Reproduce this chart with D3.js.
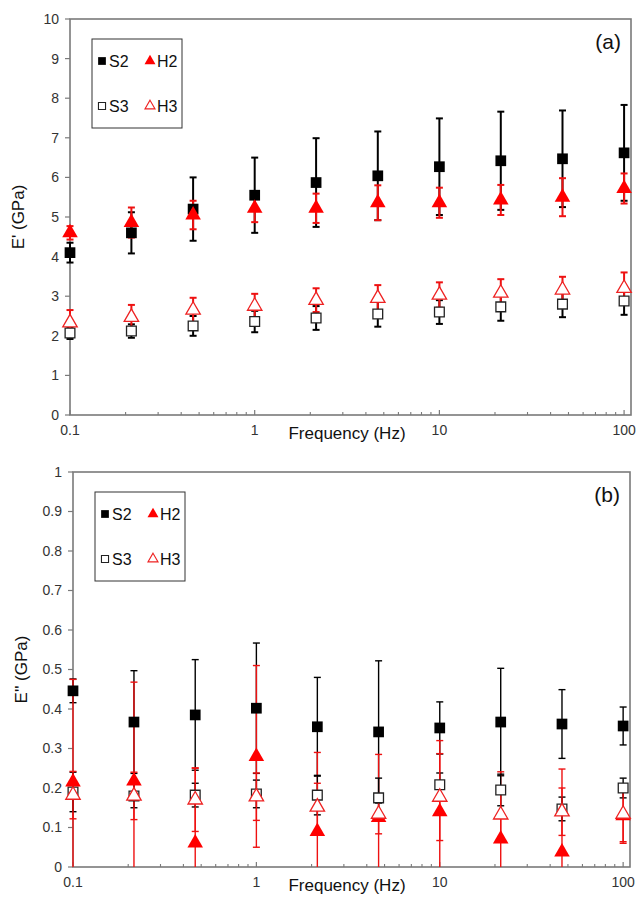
<!DOCTYPE html>
<html>
<head>
<meta charset="utf-8">
<script src="https://cdn.jsdelivr.net/npm/d3@7"></script>
<style>
  body { margin: 0; background: #fff; }
  svg text { font-family: "Liberation Sans", Arial, sans-serif; }
</style>
</head>
<body>
<div id="chart"></div>
<script>
// frequencies (Hz)
const freq = [0.1, 0.215, 0.464, 1, 2.15, 4.64, 10, 21.5, 46.4, 100];
const xTicks = [0.1, 1, 10, 100];

// (a) storage modulus E' (GPa)
const s2Storage    = [4.10, 4.60, 5.20, 5.55, 5.87, 6.04, 6.27, 6.42, 6.47, 6.62];
const s2StorageErr = [0.25, 0.52, 0.80, 0.95, 1.12, 1.12, 1.22, 1.24, 1.22, 1.21];
const h2Storage    = [4.60, 4.86, 5.05, 5.22, 5.22, 5.36, 5.36, 5.43, 5.50, 5.72];
const h2StorageErr = [0.17, 0.38, 0.36, 0.35, 0.37, 0.44, 0.38, 0.38, 0.48, 0.38];
const s3Storage    = [2.07, 2.12, 2.25, 2.36, 2.45, 2.55, 2.60, 2.73, 2.80, 2.88];
const s3StorageErr = [0.15, 0.17, 0.25, 0.27, 0.30, 0.32, 0.30, 0.35, 0.33, 0.35];
const h3Storage    = [2.33, 2.47, 2.65, 2.75, 2.90, 2.95, 3.03, 3.08, 3.16, 3.20];
const h3StorageErr = [0.32, 0.31, 0.31, 0.31, 0.30, 0.33, 0.32, 0.35, 0.33, 0.40];
const storageTicks = [0, 1, 2, 3, 4, 5, 6, 7, 8, 9, 10];

// (b) loss modulus E'' (GPa)
const s2Loss    = [0.446, 0.367, 0.385, 0.402, 0.355, 0.342, 0.352, 0.367, 0.362, 0.357];
const s2LossErr = [0.030, 0.130, 0.140, 0.165, 0.125, 0.180, 0.066, 0.136, 0.087, 0.048];
const h2Loss    = [0.215, 0.218, 0.061, 0.280, 0.090, 0.125, 0.140, 0.071, 0.038, 0.130];
const h2LossErr = [0.260, 0.250, 0.190, 0.230, 0.200, 0.160, 0.180, 0.170, 0.210, 0.070];
const s3Loss    = [0.190, 0.180, 0.182, 0.185, 0.182, 0.175, 0.208, 0.195, 0.147, 0.200];
const s3LossErr = [0.050, 0.030, 0.030, 0.035, 0.050, 0.050, 0.030, 0.040, 0.030, 0.025];
const h3Loss    = [0.182, 0.180, 0.170, 0.178, 0.152, 0.134, 0.177, 0.132, 0.140, 0.134];
const h3LossErr = [0.060, 0.060, 0.080, 0.060, 0.060, 0.050, 0.110, 0.060, 0.060, 0.070];
const lossTicks = [0, 0.1, 0.2, 0.3, 0.4, 0.5, 0.6, 0.7, 0.8, 0.9, 1];

const legendNames = ["S2", "H2", "S3", "H3"];

const W = 636, H = 901;
const svg = d3.select("#chart").append("svg")
    .attr("width", W).attr("height", H);

const axisColor = "#7a7a7a";
const textColor = "#333";

function drawPanel(opt) {
    const x = d3.scaleLog().domain([0.1, 109]).range([opt.left, opt.right]);
    const y = d3.scaleLinear().domain([0, opt.yMax]).range([opt.bottom, opt.top]);
    const g = svg.append("g");

    // frame
    g.append("rect")
        .attr("x", opt.left).attr("y", opt.top)
        .attr("width", opt.right - opt.left).attr("height", opt.bottom - opt.top)
        .attr("fill", "none").attr("stroke", axisColor).attr("stroke-width", 1.6);

    // y ticks (outward)
    g.selectAll(".ytick").data(opt.yTicks).enter().append("line")
        .attr("x1", opt.left - 5).attr("x2", opt.left)
        .attr("y1", d => y(d)).attr("y2", d => y(d))
        .attr("stroke", axisColor).attr("stroke-width", 1.2);
    g.selectAll(".ylab").data(opt.yTicks).enter().append("text")
        .attr("x", opt.left - 11).attr("y", d => y(d))
        .attr("dy", "0.35em").attr("text-anchor", "end")
        .attr("font-size", 14).attr("fill", textColor)
        .text(d => d3.format("~g")(d));

    // x ticks (inward), minor at 2..9 each decade
    const minor = [];
    [0.1, 1, 10].forEach(dec => { for (let k = 2; k <= 9; k++) minor.push(dec * k); });
    g.selectAll(".xminor").data(minor).enter().append("line")
        .attr("x1", d => x(d)).attr("x2", d => x(d))
        .attr("y1", opt.bottom).attr("y2", opt.bottom - 3)
        .attr("stroke", axisColor).attr("stroke-width", 1.1);
    g.selectAll(".xmajor").data(xTicks).enter().append("line")
        .attr("x1", d => x(d)).attr("x2", d => x(d))
        .attr("y1", opt.bottom).attr("y2", opt.bottom - 5)
        .attr("stroke", axisColor).attr("stroke-width", 1.2);
    g.selectAll(".xlab").data(xTicks).enter().append("text")
        .attr("x", d => x(d)).attr("y", opt.bottom + 20)
        .attr("text-anchor", "middle")
        .attr("font-size", 14).attr("fill", textColor)
        .text(d => d3.format("~g")(d));

    // axis titles
    g.append("text")
        .attr("x", 347).attr("y", opt.bottom + 24)
        .attr("text-anchor", "middle").attr("font-size", 17).attr("fill", "#111")
        .text("Frequency (Hz)");
    g.append("text")
        .attr("transform", `translate(${opt.left - 46},${(opt.top + opt.bottom) / 2}) rotate(-90)`)
        .attr("text-anchor", "middle").attr("font-size", 17).attr("fill", "#111")
        .text(opt.yTitle);

    // panel tag
    g.append("text")
        .attr("x", opt.right - 10).attr("y", opt.top + 30)
        .attr("text-anchor", "end").attr("font-size", 21).attr("fill", "#111")
        .text(opt.tag);

    const plot = g.append("g");

    // error bars (cut at y = 0)
    opt.series.forEach(s => {
        const pts = freq.map((f, i) => ({ f, v: s.values[i], e: s.err[i] }));
        const eg = plot.append("g")
            .attr("stroke", s.barColor).attr("stroke-width", opt.barWidth);
        eg.selectAll("line.v").data(pts).enter().append("line")
            .attr("x1", d => x(d.f)).attr("x2", d => x(d.f))
            .attr("y1", d => y(Math.max(0, d.v - d.e))).attr("y2", d => y(d.v + d.e));
        eg.selectAll("line.hi").data(pts).enter().append("line")
            .attr("x1", d => x(d.f) - 3.5).attr("x2", d => x(d.f) + 3.5)
            .attr("y1", d => y(d.v + d.e)).attr("y2", d => y(d.v + d.e));
        eg.selectAll("line.lo").data(pts.filter(d => d.v - d.e > 0)).enter().append("line")
            .attr("x1", d => x(d.f) - 3.5).attr("x2", d => x(d.f) + 3.5)
            .attr("y1", d => y(d.v - d.e)).attr("y2", d => y(d.v - d.e));
    });

    // markers
    const sq = d3.symbol().type(d3.symbolSquare).size(115);
    const sqOpen = d3.symbol().type(d3.symbolSquare).size(95);
    const tri = d3.symbol().type(d3.symbolTriangle).size(105);
    const triOpen = d3.symbol().type(d3.symbolTriangle).size(90);
    const shapes = { S2: sq, S3: sqOpen, H2: tri, H3: triOpen };
    ["S2", "S3", "H2", "H3"].forEach(name => {
        const s = opt.series.find(d => d.name === name);
        plot.selectAll(null).data(freq.map((f, i) => ({ f, v: s.values[i] }))).enter()
            .append("path")
            .attr("d", shapes[name])
            .attr("transform", d => `translate(${x(d.f)},${y(d.v)})`)
            .attr("fill", s.fill).attr("stroke", s.stroke).attr("stroke-width", s.open ? 1.3 : 0);
    });

    // legend
    const lg = g.append("g");
    lg.append("rect")
        .attr("x", opt.left + 22).attr("y", opt.top + 20)
        .attr("width", 90).attr("height", 89)
        .attr("fill", "#fff").attr("stroke", "#333").attr("stroke-width", 1);
    const legendPos = [
        { name: "S2", dx: 32, dy: 42 }, { name: "H2", dx: 80, dy: 42 },
        { name: "S3", dx: 32, dy: 87 }, { name: "H3", dx: 80, dy: 87 }
    ];
    const lshapes = {
        S2: d3.symbol().type(d3.symbolSquare).size(60),
        S3: d3.symbol().type(d3.symbolSquare).size(50),
        H2: d3.symbol().type(d3.symbolTriangle).size(52),
        H3: d3.symbol().type(d3.symbolTriangle).size(44)
    };
    legendPos.forEach(p => {
        const s = opt.series.find(d => d.name === p.name);
        lg.append("path").attr("d", lshapes[p.name])
            .attr("transform", `translate(${opt.left + p.dx},${opt.top + p.dy})`)
            .attr("fill", s.fill).attr("stroke", s.stroke).attr("stroke-width", s.open ? 1.1 : 0);
        lg.append("text")
            .attr("x", opt.left + p.dx + 7).attr("y", opt.top + p.dy)
            .attr("dy", "0.36em").attr("font-size", 16).attr("fill", "#111")
            .text(p.name);
    });
}

function makeSeries(vals) {
    return [
        { name: legendNames[0], values: vals[0], err: vals[1], fill: "#000", stroke: "none", barColor: "#000" },
        { name: legendNames[1], values: vals[2], err: vals[3], fill: "#ff0000", stroke: "none", barColor: "#ee1111" },
        { name: legendNames[2], values: vals[4], err: vals[5], fill: "#fff", stroke: "#222", open: true, barColor: "#000" },
        { name: legendNames[3], values: vals[6], err: vals[7], fill: "#fff", stroke: "#ee2222", open: true, barColor: "#ee1111" }
    ];
}

drawPanel({
    id: "a", left: 70, right: 631, top: 19, bottom: 415, yMax: 10,
    yTicks: storageTicks, yTitle: "E' (GPa)", tag: "(a)", barWidth: 2,
    series: makeSeries([s2Storage, s2StorageErr, h2Storage, h2StorageErr,
                        s3Storage, s3StorageErr, h3Storage, h3StorageErr])
});

drawPanel({
    id: "b", left: 73, right: 630, top: 472, bottom: 867, yMax: 1,
    yTicks: lossTicks, yTitle: "E'' (GPa)", tag: "(b)", barWidth: 1.4,
    series: makeSeries([s2Loss, s2LossErr, h2Loss, h2LossErr,
                        s3Loss, s3LossErr, h3Loss, h3LossErr])
});
</script>
</body>
</html>
